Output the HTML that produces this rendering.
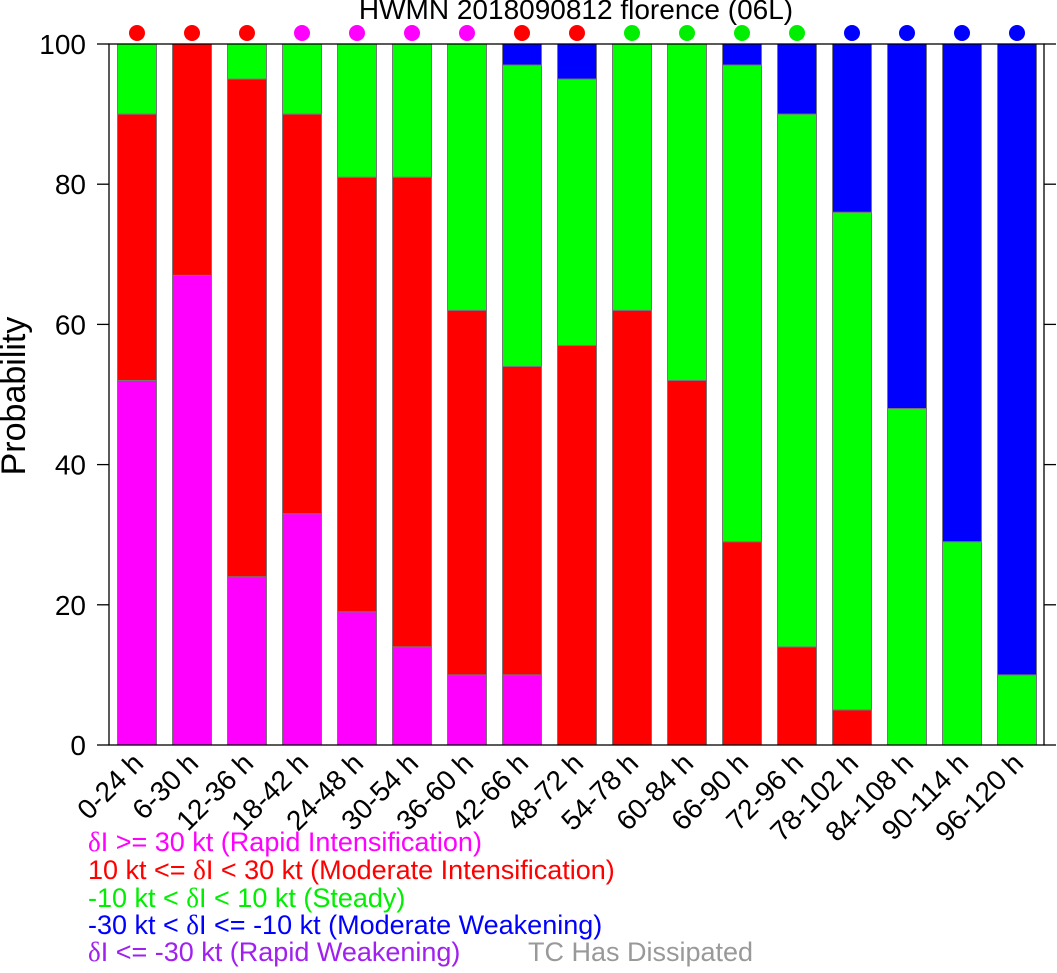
<!DOCTYPE html>
<html><head><meta charset="utf-8"><style>
body{margin:0;background:#fff;}
svg text{font-family:"Liberation Sans",sans-serif;}
.d{font-family:"Liberation Serif",serif;}
</style></head><body>
<svg id="chart" width="1057" height="968" xmlns="http://www.w3.org/2000/svg">
<text x="576" y="19" font-size="28" text-anchor="middle">HWMN 2018090812 florence (06L)</text>
<text transform="translate(25,396) rotate(-90)" font-size="34" text-anchor="middle">Probability</text>
<g id="bars"></g><g id="axes"></g><g id="dots"></g><g id="xlabels"></g>
<g font-size="27">
<text x="88" y="851" fill="#ff00ff"><tspan class="d">δ</tspan>I &gt;= 30 kt (Rapid Intensification)</text>
<text x="88" y="879" fill="#ff0000">10 kt &lt;= <tspan class="d">δ</tspan>I &lt; 30 kt (Moderate Intensification)</text>
<text x="88" y="907" fill="#00ee00">-10 kt &lt; <tspan class="d">δ</tspan>I &lt; 10 kt (Steady)</text>
<text x="88" y="934" fill="#0000ff">-30 kt &lt; <tspan class="d">δ</tspan>I &lt;= -10 kt (Moderate Weakening)</text>
<text x="88" y="961" fill="#a020f0"><tspan class="d">δ</tspan>I &lt;= -30 kt (Rapid Weakening)</text>
<text x="528" y="961" fill="#999999">TC Has Dissipated</text>
</g>
</svg>
<script>
const categories=["0-24 h","6-30 h","12-36 h","18-42 h","24-48 h","30-54 h","36-60 h","42-66 h","48-72 h","54-78 h","60-84 h","66-90 h","72-96 h","78-102 h","84-108 h","90-114 h","96-120 h"];
const rapidInt=[52,67,24,33,19,14,10,10,0,0,0,0,0,0,0,0,0];
const modInt=[38,33,71,57,62,67,52,44,57,62,52,29,14,5,0,0,0];
const steady=[10,0,5,10,19,19,38,43,38,38,48,68,76,71,48,29,10];
const modWeak=[0,0,0,0,0,0,0,3,5,0,0,3,10,24,52,71,90];
const dotColors=["#ff0000","#ff0000","#ff0000","#ff00ff","#ff00ff","#ff00ff","#ff00ff","#ff0000","#ff0000","#00ee00","#00ee00","#00ee00","#00ee00","#0000ff","#0000ff","#0000ff","#0000ff"];
const yTicks=[0,20,40,60,80,100];
const NS="http://www.w3.org/2000/svg";
const L=109,R=1044,T=44,B=745;
const y=v=>B-(B-T)*v/100;
const xc=i=>137+55*i;
function mk(tag,attrs,parent){const e=document.createElementNS(NS,tag);for(const k in attrs)e.setAttribute(k,attrs[k]);parent.appendChild(e);return e;}
const bars=document.getElementById('bars'),axes=document.getElementById('axes'),dots=document.getElementById('dots'),xl=document.getElementById('xlabels');
const series=[[rapidInt,"#ff00ff","rapid-int"],[modInt,"#ff0000","mod-int"],[steady,"#00ff00","steady"],[modWeak,"#0000ff","mod-weak"]];
categories.forEach((c,i)=>{
  let base=0;
  series.forEach(([arr,col,nm])=>{
    const v=arr[i];if(v<=0)return;
    const r=mk('rect',{x:xc(i)-19.5,y:y(base+v),width:39,height:y(base)-y(base+v),fill:col,stroke:"#777",'stroke-width':1},bars);
    
    
    base+=v;
  });
  const d=mk('circle',{cx:xc(i),cy:33,r:8,fill:dotColors[i]},dots);
  
  
  const t=mk('text',{transform:`translate(${xc(i)+8},${B+20}) rotate(-45)`,'font-size':28,'text-anchor':'end'},xl);
  t.textContent=c;
  
  
});
const fr=mk('rect',{x:L,y:T,width:R-L,height:B-T,fill:'none',stroke:'#000','stroke-width':1.3},axes);


yTicks.forEach(v=>{
  const l1=mk('line',{x1:97,x2:L,y1:y(v),y2:y(v),stroke:'#000','stroke-width':1.3},axes);
  
  
  const l2=mk('line',{x1:R,x2:1056,y1:y(v),y2:y(v),stroke:'#000','stroke-width':1.3},axes);
  
  
  const t=mk('text',{x:86,y:y(v)+10,'font-size':28,'text-anchor':'end'},axes);
  t.textContent=v;
  
  
});
</script>
</body></html>
